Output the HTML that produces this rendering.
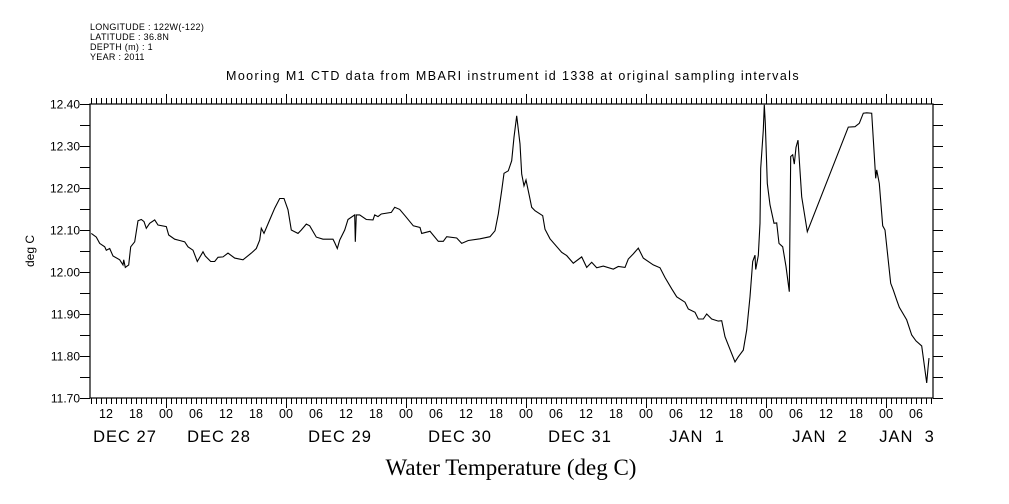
<!DOCTYPE html>
<html><head><meta charset="utf-8"><style>
html,body{margin:0;padding:0;background:#fff;width:1009px;height:504px;overflow:hidden}
svg text{font-family:"Liberation Sans",sans-serif;fill:#000}
</style></head><body>
<svg id="chart" width="1009" height="504" viewBox="0 0 1009 504" xmlns="http://www.w3.org/2000/svg">
<rect width="1009" height="504" fill="#fff"/>
<g font-size="9" letter-spacing="0.3">
<text x="90" y="30">LONGITUDE : 122W(-122)</text>
<text x="90" y="40">LATITUDE : 36.8N</text>
<text x="90" y="50">DEPTH (m) : 1</text>
<text x="90" y="60">YEAR : 2011</text>
</g>
<text x="513" y="80" font-size="12.5" letter-spacing="1.4" text-anchor="middle">Mooring M1 CTD data from MBARI instrument id 1338 at original sampling intervals</text>
<text x="34" y="251" font-size="12" text-anchor="middle" transform="rotate(-90 34 251)">deg C</text>
<text x="511" y="475" font-size="23" text-anchor="middle" style="font-family:'Liberation Serif',serif">Water Temperature (deg C)</text>
<g id="axes"></g>
<g id="series"></g>
</svg>
<script>
const hours = [9.06,10.06,10.74,11.74,12.06,12.74,13.4,14.74,15.4,15.54,15.86,16.54,16.94,17.74,18.4,19.06,19.6,20.06,20.74,21.74,22.4,24.06,24.54,25.74,26.74,27.74,28.4,29.4,30.26,31.4,31.86,32.94,33.74,34.4,35.4,36.4,37.74,39.4,41.06,42.06,42.74,43.06,43.6,44.74,45.74,46.74,47.6,48.4,49.06,49.74,50.4,51.06,52.06,52.74,54.06,55.4,57.4,57.74,58.26,58.74,59.74,60.4,61.74,61.86,62.06,62.74,64.06,65.4,65.74,66.4,67.06,69.06,69.74,70.74,71.8,73.46,74.8,75.14,76.8,78.46,79.46,80.14,82.14,83.14,84.46,86.8,88.8,89.8,90.46,91.14,91.6,92.46,93.14,93.6,94.14,94.8,95.14,95.6,96,96.66,97.14,97.8,99.34,99.8,100.8,103.14,104.14,105.46,107.14,108.14,109.14,110.14,111.46,113.46,114.46,115.8,116.46,117.46,118.46,119.46,121.46,122.8,123.8,125.14,126.14,127.8,128.46,129.8,130.46,131.46,132.14,133.14,134.46,135.14,135.8,136.46,137.8,138.46,139.46,140.14,140.8,141.34,141.8,141.94,142.46,142.8,142.94,143.46,143.66,143.86,144.26,144.8,145.6,146.14,146.6,147.34,148,148.66,148.94,149.34,149.66,150,150.4,151.14,152.26,160.46,161.8,162.66,163.46,164.14,165.14,165.94,166.14,166.66,167.34,167.8,168.94,169.46,170.14,170.66,172.14,173.14,174,175.14,176.14,176.4,176.6];
const temps = [12.092,12.083,12.068,12.060,12.052,12.056,12.038,12.029,12.017,12.029,12.011,12.017,12.060,12.072,12.122,12.125,12.120,12.104,12.116,12.124,12.112,12.108,12.088,12.078,12.075,12.072,12.060,12.052,12.025,12.048,12.038,12.025,12.025,12.035,12.036,12.045,12.033,12.029,12.045,12.056,12.076,12.104,12.092,12.124,12.152,12.175,12.175,12.148,12.100,12.096,12.092,12.100,12.114,12.110,12.083,12.078,12.078,12.070,12.056,12.076,12.100,12.125,12.136,12.072,12.136,12.136,12.125,12.124,12.136,12.132,12.138,12.142,12.154,12.149,12.134,12.110,12.106,12.092,12.097,12.073,12.073,12.084,12.081,12.068,12.075,12.079,12.084,12.098,12.138,12.194,12.235,12.241,12.265,12.321,12.372,12.305,12.233,12.205,12.219,12.182,12.154,12.146,12.134,12.102,12.079,12.047,12.039,12.021,12.036,12.011,12.023,12.010,12.014,12.007,12.013,12.011,12.031,12.043,12.057,12.033,12.017,12.010,11.987,11.960,11.941,11.928,11.912,11.904,11.888,11.888,11.900,11.888,11.883,11.884,11.846,11.826,11.786,11.798,11.814,11.862,11.941,12.025,12.040,12.006,12.039,12.116,12.247,12.338,12.398,12.354,12.211,12.160,12.116,12.117,12.068,12.060,12.013,11.953,12.275,12.279,12.257,12.297,12.314,12.179,12.096,12.345,12.346,12.354,12.378,12.379,12.378,12.223,12.243,12.211,12.110,12.100,11.973,11.957,11.933,11.916,11.886,11.850,11.836,11.824,11.736,11.771,11.795];
const yTickLabels = ["11.70","11.80","11.90","12.00","12.10","12.20","12.30","12.40"];
const hourLabels = ["12","18","00","06","12","18","00","06","12","18","00","06","12","18","00","06","12","18","00","06","12","18","00","06","12","18","00","06"];
const dayLabels = ["DEC 27","DEC 28","DEC 29","DEC 30","DEC 31","JAN  1","JAN  2","JAN  3"];
const dayLabelHours = [15.8,34.6,58.8,82.8,106.8,130.2,154.8,172.2];

const L=90,R=933,T=104,B=398;
const H0=8.8,H1=177.4;
const yMin=11.70,yMax=12.40;
const xs=h=>L+(h-H0)/(H1-H0)*(R-L);
const ys=v=>B-(v-yMin)/(yMax-yMin)*(B-T);
const NS="http://www.w3.org/2000/svg";
const axes=document.getElementById('axes');
const series=document.getElementById('series');
function mk(tag,attrs,parent){const e=document.createElementNS(NS,tag);for(const k in attrs)e.setAttribute(k,attrs[k]);parent.appendChild(e);return e;}

const frame=mk('rect',{x:L,y:T,width:R-L,height:B-T,fill:'none',stroke:'#000','stroke-width':1.2},axes);



let d='';
for(let h=Math.ceil(H0);h<=H1;h++){
  const x=Math.round(xs(h))+0.5;
  const len=(h%24===0)?10:6;
  d+=`M${x} ${T}V${T-len}M${x} ${B}V${B+len}`;
}
for(let i=0;i<=14;i++){
  const y=Math.round(ys(yMin+i*0.05))+0.5;
  d+=`M${L} ${y}H${L-10}M${R} ${y}H${R+10}`;
}
const ticks=mk('path',{d:d,stroke:'#000','stroke-width':1,fill:'none'},axes);



yTickLabels.forEach((lab,i)=>{
  const t=mk('text',{x:80,y:ys(parseFloat(lab))+4.5,'font-size':12,'text-anchor':'end'},axes);
  t.textContent=lab;
  
  
});
hourLabels.forEach((lab,i)=>{
  const h=12+i*6;
  const t=mk('text',{x:xs(h),y:418,'font-size':12.5,'text-anchor':'middle'},axes);
  t.textContent=lab;
  
  
});
dayLabels.forEach((lab,i)=>{
  const t=mk('text',{x:xs(dayLabelHours[i]),y:442,'font-size':16.5,'letter-spacing':1,'text-anchor':'middle'},axes);
  t.textContent=lab;
  t.style.whiteSpace='pre';
  
  
});

const pts=hours.map((h,i)=>xs(h).toFixed(1)+','+ys(temps[i]).toFixed(1)).join(' ');
const line=mk('polyline',{points:pts,fill:'none',stroke:'#000','stroke-width':1.1,'stroke-linejoin':'miter'},series);


</script>
</body></html>
